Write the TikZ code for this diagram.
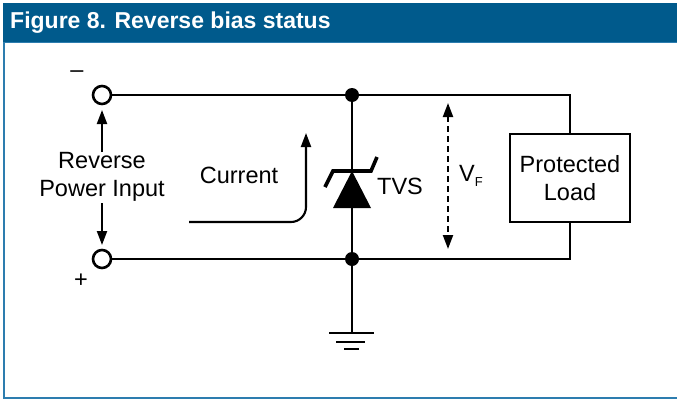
\documentclass[tikz,border=0pt]{standalone}
\usepackage{fontspec}
\setmainfont{Liberation Sans}
\usetikzlibrary{arrows.meta}
\definecolor{hdr}{RGB}{0,90,140}
\definecolor{frm}{RGB}{45,125,175}
\begin{document}
\begin{tikzpicture}[x=1pt,y=-1pt,
  wire/.style={line width=2.8pt},
  lbl/.style={font=\fontsize{23.5}{28}\selectfont, inner sep=0pt, align=center},
  arr/.style={line width=2.1pt,-{Triangle[length=14pt,width=10pt]}},
  term/.style={circle, draw, line width=2.6pt, minimum size=18pt, inner sep=0pt, fill=white},
  dot/.style={circle, fill, minimum size=14pt, inner sep=0pt}]
\useasboundingbox (0,0) rectangle (677,399);
% frame
\fill[hdr] (3,3) rectangle (677,42);
\draw[frm, line width=1.5pt] (3.75,42) -- (3.75,398) -- (677,398);
\draw[frm, line width=1.2pt] (3,42.6) -- (677,42.6);
\node[anchor=west, text=white, font=\bfseries\fontsize{23}{26}\selectfont, inner sep=0pt] (title) at (10,23) {Figure 8. Reverse bias status};
% terminals
\node[term] (tm) at (102,95) {};
\node[term] (tp) at (102,259) {};
\node[lbl] (minus) at (77,74) {–};
\node[lbl] (plus) at (81,281) {+};
\node[lbl] (rpi) at (102,177) {Reverse\\Power Input};
\coordinate (a1s) at (102,152);
\coordinate (a1e) at (102,110);
\coordinate (a2s) at (102,203);
\coordinate (a2e) at (102,245);
\draw[arr] (a1s) -- (a1e);
\draw[arr] (a2s) -- (a2e);
% load
\node[draw, line width=2.7pt, minimum width=120pt, minimum height=88pt, lbl, inner sep=0pt] (load) at (570,178) {Protected\\Load};
% junctions
\node[dot] (j1) at (352,95) {};
\node[dot] (j2) at (352,259) {};
\coordinate (g) at (352,333);
% wires
\draw[wire] (tm.east) -- (j1) -| (load.north);
\draw[wire] (tp.east) -- (j2) -| (load.south);
\draw[wire] (j1) -- (j2);
\draw[wire] (j2) -- (g);
% ground
\coordinate (g1l) at (329,333); \coordinate (g1r) at (374,333);
\coordinate (g2l) at (336,342); \coordinate (g2r) at (365,342);
\coordinate (g3l) at (344,349); \coordinate (g3r) at (359,349);
\draw[wire] (g1l) -- (g1r);
\draw[wire] (g2l) -- (g2r);
\draw[wire] (g3l) -- (g3r);
% TVS diode
\fill (333,208) -- (371,208) -- (352,171) -- cycle;
\draw[line width=3.6pt, line join=miter] (325,187) -- (333,171) -- (371,171) -- (377,157);
\node[lbl, anchor=west] (tvs) at (377,186) {TVS};
% current arrow
\coordinate (cs) at (189,222);
\coordinate (cc) at (306,222);
\coordinate (ce) at (306,133);
\draw[arr, rounded corners=15pt] (cs) -- (cc) -- (ce);
\node[lbl] (cur) at (239,175) {Current};
% VF
\coordinate (vt) at (448,103);
\coordinate (vb) at (448,249);
\draw[line width=2.1pt, dash pattern=on 6pt off 4pt, {Triangle[length=14pt,width=10pt]}-{Triangle[length=14pt,width=10pt]}] (vt) -- (vb);
\node[lbl, anchor=west] (vf) at (459,176) {V\raisebox{-0.35ex}{\fontsize{13}{15}\selectfont F}};
\end{tikzpicture}
\end{document}
